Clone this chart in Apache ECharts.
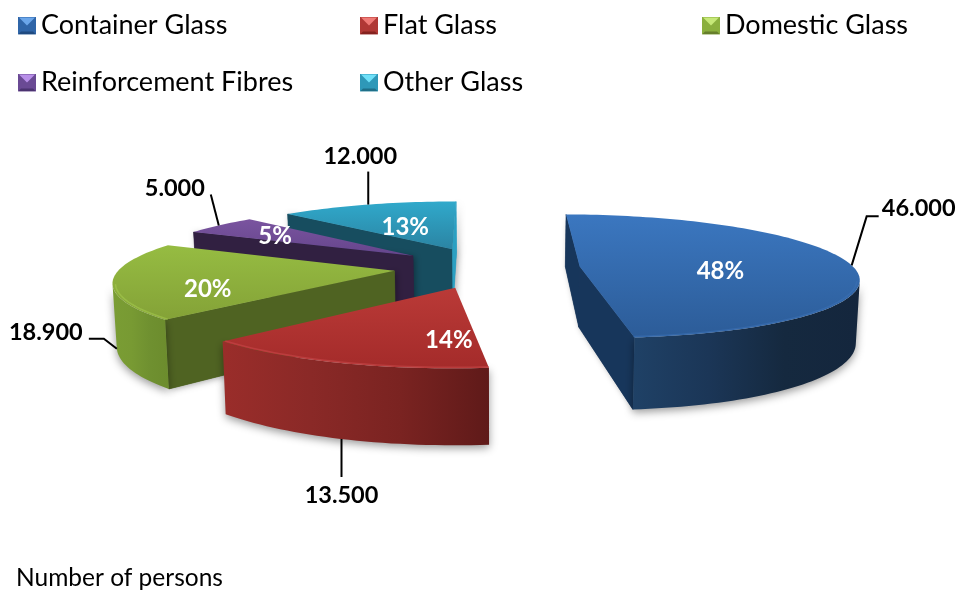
<!DOCTYPE html>
<html>
<head>
<meta charset="utf-8">
<style>html,body{margin:0;padding:0;background:#fff}#chart{width:964px;height:593px}</style>
<script src="https://cdn.jsdelivr.net/npm/echarts@6/dist/echarts.min.js"></script>
</head>
<body>
<div id="chart"></div>
<script>
// Employment in the glass industry, by sector
const categories = ['Container Glass', 'Flat Glass', 'Domestic Glass', 'Reinforcement Fibres', 'Other Glass'];
const personCounts = [46000, 13500, 18900, 5000, 12000];
const caption = 'Number of persons';

// Slices are painted far to near
const paintOrder = [0, 4, 3, 2, 1];

// Camera of the tilted pie: the disc is a unit circle on a plane seen in perspective
const CAM = { vx: 465, horizon: -115, ax: 270, ay: 377, p: 0.156, depth: 60, pinchX: 500, pinch: 0.011 };
const HUB = { x: 0.08, y: -0.09 };
const EXPLODE = 0.34;
const FIRST_SLICE_ANGLE = 0.5;

const palette = [
  { top: ['#3b77c0', '#2c5c98'], wall: '#17365b', end: '#17365b', rim: ['#1f4166', '#1b3657', '#15293f', '#14263d'], edge: '#3a70b4', icon: ['#6ba6ea', '#2f65a8', '#1f4a80'] },
  { top: ['#ba3a37', '#a42b2a'], wall: '#5f1a19', end: '#5f1a19', rim: ['#9a2d2a', '#8a2927', '#7a2321', '#5f1a19'], edge: '#c8474a', icon: ['#ef7a76', '#b03835', '#85221f'] },
  { top: ['#96bc42', '#84a237'], wall: '#4f6322', end: '#4f6322', rim: ['#7a9d34', '#789a33', '#6f9030', '#6c8c2d'], edge: '#a3c84f', icon: ['#c6e878', '#8aaf3d', '#667f2b'] },
  { top: ['#7a549f', '#65458c'], wall: '#312041', end: '#312041', rim: ['#5d3f80', '#5d3f80', '#4a3266', '#4a3266'], edge: '#8a63b0', icon: ['#b88fe8', '#6a4a94', '#4b3370'] },
  { top: ['#30a9cb', '#2b84a3'], wall: '#174d5f', end: '#2ba0c2', rim: ['#2b93b2', '#2b93b2', '#24809c', '#24809c'], edge: '#45bcdc', icon: ['#6fe0f8', '#2e98b8', '#1f6f88'] }
];

// Label placement on each slice: polar position from the slice's own apex
const percentPolar = [[0.51, 99.7], [0.69, 181.3], [0.695, 245.6], [0.662, 302.5], [0.472, 335.5]];
// Leader lines: rim angle they leave from, whether from the wall's lower edge, then pixel steps
const leaders = [
  { angle: 89, low: false, steps: [[15, -49], [27, -49]], text: [67, -57] },
  { angle: 199.4, low: true, steps: [[0, 38]], text: [0, 56] },
  { angle: 257, low: true, steps: [[-13, -10], [-28, -10]], text: [-71, -16] },
  { angle: 305.5, low: false, steps: [[-8, -31]], text: [-44, -37] },
  { angle: 338, low: false, steps: [[0, -33]], text: [-8, -48] }
];
const legendSlots = [[18, 12], [360, 12], [702, 12], [18, 69], [360, 69]];

const total = personCounts.reduce((a, b) => a + b, 0);
const RAD = Math.PI / 180;

function sliceSpan(i) {
  let before = 0;
  for (let k = 0; k < i; k++) before += personCounts[k];
  return [
    FIRST_SLICE_ANGLE + before / total * 360,
    FIRST_SLICE_ANGLE + (before + personCounts[i]) / total * 360
  ];
}

function project(x, y, low) {
  const w = 1 + CAM.p * y;
  const sx = CAM.vx + CAM.ax * x / w;
  const sy = CAM.horizon + CAM.ay / w;
  if (!low) return [sx, sy];
  return [CAM.pinchX + (sx - CAM.pinchX) * (1 - CAM.pinch), sy + CAM.depth / w];
}

function signedArea(pts) {
  let s = 0;
  pts.forEach((p, i) => {
    const q = pts[(i + 1) % pts.length];
    s += p[0] * q[1] - q[0] * p[1];
  });
  return s;
}

function renderSlice(i, value) {
  const [a0, a1] = sliceSpan(i);
  const mid = (a0 + a1) / 2;
  const c = palette[i];
  const ax = HUB.x + EXPLODE * Math.sin(mid * RAD);
  const ay = HUB.y + EXPLODE * Math.cos(mid * RAD);
  const rimAt = deg => [ax + Math.sin(deg * RAD), ay + Math.cos(deg * RAD)];
  const onPlane = (pt, low) => project(pt[0], pt[1], low);
  const apex = [ax, ay];

  const steps = Math.ceil((a1 - a0) / 1.5);
  const arc = [];
  for (let k = 0; k <= steps; k++) arc.push(rimAt(a0 + (a1 - a0) * k / steps));

  const children = [];
  const quad = (p, q) => [onPlane(p), onPlane(q), onPlane(q, true), onPlane(p, true)];
  const softShadow = { shadowBlur: 8, shadowColor: 'rgba(0,0,0,0.4)', shadowOffsetY: 3 };

  // Radial walls, only where they face the viewer
  const startWall = quad(apex, arc[0]);
  const endWall = quad(arc[steps], apex);
  const walls = [];
  if (signedArea(startWall) < 0) walls.push([startWall, c.wall]);
  if (signedArea(endWall) < 0) walls.push([endWall, c.end]);
  walls.forEach(w => children.push({
    type: 'polygon', shape: { points: w[0] },
    style: { fill: w[1], shadowBlur: 6, shadowColor: 'rgba(0,0,0,0.35)', shadowOffsetX: 2, shadowOffsetY: 1 }
  }));
  walls.forEach(w => children.push({
    type: 'polygon', shape: { points: w[0] },
    style: { fill: w[1], stroke: w[1], lineWidth: 0.6 }
  }));

  // Curved outer wall: the run of rim segments facing the viewer
  let first = -1, last = -1;
  for (let k = 0; k < steps; k++) {
    if (signedArea(quad(arc[k], arc[k + 1])) < 0) {
      if (first < 0) first = k;
      last = k + 1;
    }
  }
  if (first >= 0) {
    const run = arc.slice(first, last + 1);
    const pts = run.map(p => onPlane(p)).concat(run.slice().reverse().map(p => onPlane(p, true)));
    children.push({
      type: 'polygon',
      shape: { points: pts },
      style: Object.assign({
        fill: {
          type: 'linear', x: 0, y: 0, x2: 1, y2: 0,
          colorStops: c.rim.map((col, n) => ({ offset: n / (c.rim.length - 1), color: col }))
        }
      }, softShadow)
    });
  }

  // Top face
  const face = [onPlane(apex)].concat(arc.map(p => onPlane(p)));
  children.push({
    type: 'polygon',
    shape: { points: face },
    style: {
      fill: {
        type: 'linear', x: 0, y: 0, x2: 0, y2: 1,
        colorStops: [{ offset: 0, color: c.top[0] }, { offset: 1, color: c.top[1] }]
      }
    }
  });

  // Bevel highlight along the near rim
  if (first >= 0) {
    const inset = arc.slice(first, last + 1).map(p => onPlane([ax + (p[0] - ax) * 0.99, ay + (p[1] - ay) * 0.99]));
    children.push({ type: 'polyline', shape: { points: inset }, style: { fill: null, stroke: c.edge, lineWidth: 1.6, opacity: 0.6 } });
  }

  // Percentage on the slice
  const pp = percentPolar[i];
  const labelAt = onPlane([ax + pp[0] * Math.sin(pp[1] * RAD), ay + pp[0] * Math.cos(pp[1] * RAD)]);
  children.push({
    type: 'text',
    z2: 5,
    style: {
      x: labelAt[0], y: labelAt[1],
      text: Math.round(value / total * 100) + '%',
      fill: '#ffffff',
      font: 'bold 24px Lato, sans-serif',
      align: 'center', verticalAlign: 'middle'
    }
  });

  // Leader line and the head count
  const ld = leaders[i];
  const from = onPlane(rimAt(ld.angle), ld.low);
  const line = [from].concat(ld.steps.map(s => [from[0] + s[0], from[1] + s[1]]));
  children.push({ type: 'polyline', shape: { points: line }, style: { fill: null, stroke: '#000000', lineWidth: 2 } });
  children.push({
    type: 'text',
    style: {
      x: from[0] + ld.text[0], y: from[1] + ld.text[1],
      text: value.toLocaleString('de-DE'),
      fill: '#000000',
      font: 'bold 23.5px Lato, sans-serif',
      align: 'center', verticalAlign: 'middle'
    }
  });

  return { type: 'group', children };
}

// Bevelled square used as the legend key
function bevelIcon(cols) {
  const svg = "<svg xmlns='http://www.w3.org/2000/svg' width='18' height='18'>" +
    "<rect width='18' height='18' fill='" + cols[1] + "'/>" +
    "<polygon points='1,1 17,1 9,9' fill='" + cols[0] + "'/>" +
    "<polygon points='0,18 18,18 15,15 3,15' fill='" + cols[2] + "'/>" +
    "</svg>";
  return 'image://data:image/svg+xml;utf8,' + encodeURIComponent(svg);
}

const chart = echarts.init(document.getElementById('chart'), null, { renderer: 'canvas' });
chart.setOption({
  animation: false,
  backgroundColor: '#ffffff',
  title: {
    text: caption,
    left: 11, top: 561,
    textStyle: { fontFamily: 'Lato, sans-serif', fontWeight: 'normal', fontSize: 24.5, color: '#000000' }
  },
  legend: categories.map((name, i) => ({
    data: [{ name, icon: bevelIcon(palette[i].icon) }],
    left: legendSlots[i][0], top: legendSlots[i][1],
    padding: 0,
    itemWidth: 18, itemHeight: 18, itemGap: 0,
    selectedMode: false,
    textStyle: { fontFamily: 'Lato, sans-serif', fontSize: 27, color: '#000000' }
  })),
  series: paintOrder.map((i, order) => ({
    type: 'custom',
    name: categories[i],
    coordinateSystem: 'none',
    z: 2 + order,
    silent: true,
    itemStyle: { color: palette[i].top[0] },
    data: [[personCounts[i]]],
    renderItem: (params, api) => renderSlice(i, api.value(0))
  }))
});
</script>
</body>
</html>
